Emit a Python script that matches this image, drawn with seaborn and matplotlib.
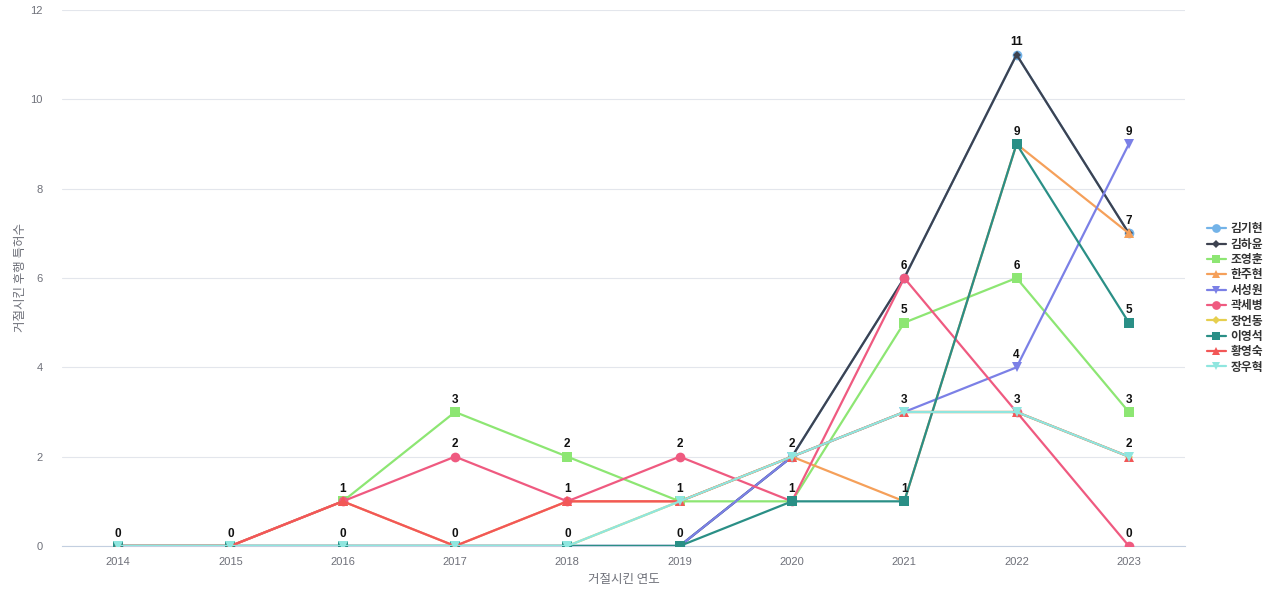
import matplotlib
matplotlib.use("Agg")
import matplotlib.pyplot as plt
import seaborn as sns
import pandas as pd

years = [2014, 2015, 2016, 2017, 2018, 2019, 2020, 2021, 2022, 2023]
names = ["김기현", "김하윤", "조영훈", "한주현", "서성원", "곽세병", "장언동", "이영석", "황영숙", "장우혁"]
v_kimgihyun = [0, 0, 0, 0, 0, 0, 2, 6, 11, 7]
v_kimhayun = [0, 0, 0, 0, 0, 0, 2, 6, 11, 7]
v_joyounghun = [0, 0, 1, 3, 2, 1, 1, 5, 6, 3]
v_hanjuhyun = [0, 0, 1, 0, 1, 1, 2, 1, 9, 7]
v_seoseongwon = [0, 0, 0, 0, 0, 0, 2, 3, 4, 9]
v_kwaksebyung = [0, 0, 1, 2, 1, 2, 1, 6, 3, 0]
v_jangeondong = [0, 0, 0, 0, 0, 1, 2, 3, 3, 2]
v_leeyoungseok = [0, 0, 0, 0, 0, 0, 1, 1, 9, 5]
v_hwangyoungsook = [0, 0, 1, 0, 1, 1, 2, 3, 3, 2]
v_jangwoohyuk = [0, 0, 0, 0, 0, 1, 2, 3, 3, 2]
series = [v_kimgihyun, v_kimhayun, v_joyounghun, v_hanjuhyun, v_seoseongwon,
          v_kwaksebyung, v_jangeondong, v_leeyoungseok, v_hwangyoungsook, v_jangwoohyuk]

colors = ["#73b3e8", "#3d4250", "#8de673", "#f5a05a", "#7b80e6",
          "#ef5a80", "#e6cf4e", "#2a8f86", "#f25757", "#8fe6df"]
markers = ["o", "D", "s", "^", "v", "o", "D", "s", "^", "v"]

rows = []
for n, vals in zip(names, series):
    for i, (y, v) in enumerate(zip(years, vals)):
        rows.append({"idx": i, "year": y, "value": v, "name": n})
df = pd.DataFrame(rows)

sns.set_theme(style="white")
plt.rcParams['font.family'] = ['Liberation Sans', 'Noto Sans CJK KR', 'DejaVu Sans']

fig = plt.figure(figsize=(12.8, 6), dpi=100)
ax = fig.add_axes([62/1280, 1 - 546/600, (1185-62)/1280, (546-10)/600])

palette = dict(zip(names, colors))
mk = dict(zip(names, markers))
sizes = {"o": 7, "D": 4.5, "s": 7, "^": 7, "v": 7}
for n in names:
    sub = df[df["name"] == n]
    m = mk[n]
    sns.lineplot(data=sub, x="idx", y="value", ax=ax, color=palette[n], marker=m,
                 markersize=sizes[m], markeredgewidth=0, linewidth=1.6, label=n,
                 legend=False, zorder=3)

# data labels: one per unique value per year
for i, y in enumerate(years):
    vals = sorted(set(s[i] for s in series))
    for v in vals:
        ax.annotate(str(v), (i, v), xytext=(0, 4.5), textcoords="offset points",
                    ha="center", va="bottom", fontsize=8.5, fontweight="bold",
                    color="#111111", zorder=5)

ax.set_xlim(-0.5, len(years) - 0.5)
ax.set_ylim(0, 12)
ax.set_yticks(range(0, 13, 2))
ax.set_xticks(range(len(years)))
ax.set_xticklabels([str(y) for y in years])
ax.tick_params(axis="both", length=0, labelsize=8, labelcolor="#6e7079")
ax.tick_params(axis="x", pad=8)
ax.tick_params(axis="y", pad=14)
ax.grid(axis="y", color="#e3e6ec", linewidth=0.8)
ax.set_axisbelow(True)
for s in ["top", "right", "left"]:
    ax.spines[s].set_visible(False)
ax.spines["bottom"].set_color("#c3cfe0")
ax.spines["bottom"].set_linewidth(0.8)
ax.set_xlabel("거절시킨 연도", fontsize=9, color="#6e7079", labelpad=4,
              family=['Noto Sans CJK KR', 'DejaVu Sans'])
ax.set_ylabel("거절시킨 후행 특허수", fontsize=9, color="#6e7079", labelpad=2,
              family=['Noto Sans CJK KR', 'DejaVu Sans'])

from matplotlib.lines import Line2D
handles = [Line2D([0], [0], color=palette[n], marker=mk[n], markersize=sizes[mk[n]] * 0.9,
                  markeredgewidth=0, linewidth=1.6) for n in names]
leg = fig.legend(handles, names, loc="center left", bbox_to_anchor=(1202/1280, 1 - 298/600),
                 frameon=False, fontsize=8.5, handlelength=1.6, handletextpad=0.4,
                 labelspacing=0.2, borderaxespad=0,
                 prop={'family': ['Noto Sans CJK KR', 'DejaVu Sans'], 'size': 8.5, 'weight': 'bold'})
for t in leg.get_texts():
    t.set_color("#333333")

fig.savefig("out.png", dpi=100)
